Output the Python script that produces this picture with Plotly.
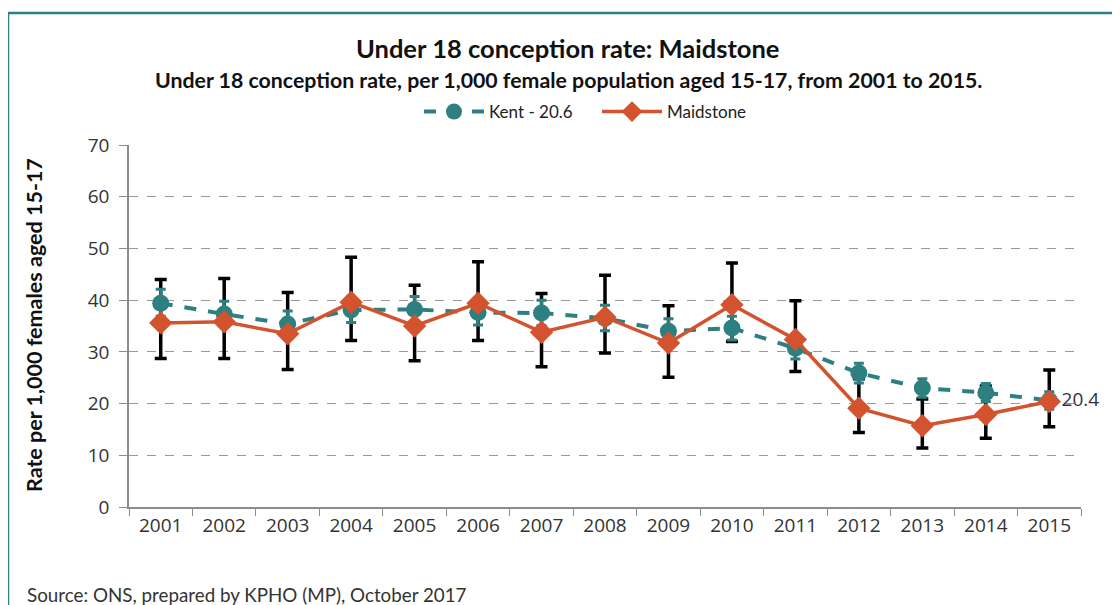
import plotly.graph_objects as go

years = ["2001", "2002", "2003", "2004", "2005", "2006", "2007", "2008",
         "2009", "2010", "2011", "2012", "2013", "2014", "2015"]
maidstone = [35.6, 35.8, 33.5, 39.6, 35.0, 39.4, 33.8, 36.7, 31.7, 39.1, 32.4, 19.1, 15.7, 17.9, 20.4]
maid_upper = [44.0, 44.2, 41.5, 48.3, 42.9, 47.4, 41.3, 44.8, 38.9, 47.2, 39.9, 24.8, 20.9, 23.4, 26.5]
maid_lower = [28.7, 28.7, 26.6, 32.2, 28.3, 32.2, 27.1, 29.8, 25.1, 32.0, 26.2, 14.4, 11.4, 13.3, 15.5]
kent = [39.4, 37.3, 35.4, 38.1, 38.2, 37.6, 37.5, 36.5, 34.0, 34.6, 30.7, 25.9, 23.0, 22.1, 20.6]
kent_upper = [42.1, 39.8, 37.9, 40.6, 40.7, 40.1, 40.0, 39.0, 36.4, 36.9, 32.9, 27.8, 24.8, 23.9, 22.3]
kent_lower = [36.9, 34.9, 33.0, 35.7, 35.8, 35.2, 35.1, 34.1, 31.7, 32.3, 28.6, 24.0, 21.2, 20.4, 18.9]
y_ticks = [0, 10, 20, 30, 40, 50, 60, 70]

TEAL = "#2E7F80"
RED = "#D4532F"

fig = go.Figure()

# Maidstone confidence intervals (drawn first, under the lines)
fig.add_trace(go.Scatter(
    x=years, y=maidstone, mode="markers", marker=dict(size=1, opacity=0),
    showlegend=False, hoverinfo="skip",
    error_y=dict(type="data", symmetric=False,
                 array=[u - v for u, v in zip(maid_upper, maidstone)],
                 arrayminus=[v - l for v, l in zip(maidstone, maid_lower)],
                 color="black", thickness=3.5, width=6)))

fig.add_trace(go.Scatter(
    x=years, y=kent, name="Kent - 20.6", mode="lines+markers",
    line=dict(color=TEAL, width=4, dash="dash"),
    marker=dict(symbol="circle", size=17, color=TEAL),
    error_y=dict(type="data", symmetric=False,
                 array=[u - v for u, v in zip(kent_upper, kent)],
                 arrayminus=[v - l for v, l in zip(kent, kent_lower)],
                 color=TEAL, thickness=3, width=5)))

labels = [""] * (len(years) - 1) + [f"{maidstone[-1]:.1f}"]
fig.add_trace(go.Scatter(
    x=years, y=maidstone, name="Maidstone", mode="lines+markers+text",
    line=dict(color=RED, width=3.5),
    marker=dict(symbol="diamond", size=18, color=RED),
    text=labels, textposition="middle right", cliponaxis=False,
    textfont=dict(family="Open Sans", size=19, color="#333333")))

# the page is shown with an 8px body margin, so screen = figure + 8
OFF = 8
W, H = 1120, 605
L, R, T, B = 129 - OFF, W - (1081 - OFF), 145 - OFF, H - (507 - OFF)
pw, ph = W - L - R, H - T - B

def px(x):
    return (x - OFF - L) / pw

def py(y):
    return (H - B - (y - OFF)) / ph

fig.update_layout(
    width=W, height=H,
    margin=dict(l=L, r=R, t=T, b=B, autoexpand=False),
    paper_bgcolor="white", plot_bgcolor="white",
    font=dict(family="Lato", color="#333333"),
    showlegend=True,
    legend=dict(orientation="h", x=px(597), y=py(112), xanchor="center", yanchor="middle",
                font=dict(family="Lato", size=17, color="#222222"),
                itemwidth=60, entrywidth=103, entrywidthmode="pixels",
                traceorder="normal"),
    xaxis=dict(type="category", showgrid=False, showline=True, linecolor="#8c8c8c", linewidth=1.5,
               ticks="outside", tickson="boundaries", ticklen=7, tickcolor="#8c8c8c",
               tickfont=dict(family="Open Sans", size=19, color="#333333"),
               range=[-0.5, len(years) - 0.5]),
    yaxis=dict(range=[0, 70], tickvals=y_ticks, showgrid=True, gridcolor="#9a9a9a",
               griddash="dash", gridwidth=1, zeroline=False, showline=True,
               linecolor="#8c8c8c", linewidth=1.5, ticks="outside", ticklen=8,
               tickcolor="#8c8c8c", ticklabelstandoff=6,
               tickfont=dict(family="Open Sans", size=19, color="#333333")),
    annotations=[
        dict(text="<b>Under 18 conception rate: Maidstone</b>", xref="paper", yref="paper",
             x=px(567), y=py(48), xanchor="center", yanchor="middle", showarrow=False,
             font=dict(family="Lato", size=25.5, color="#111111")),
        dict(text="<b>Under 18 conception rate, per 1,000 female population aged 15-17, from 2001 to 2015.</b>",
             xref="paper", yref="paper", x=px(568), y=py(80), xanchor="center", yanchor="middle",
             showarrow=False, font=dict(family="Lato", size=21.3, color="#111111")),
        dict(text="<b>Rate per 1,000 females aged 15-17</b>", xref="paper", yref="paper",
             x=px(34), y=py(325), xanchor="center", yanchor="middle", textangle=-90,
             showarrow=False, font=dict(family="Lato", size=21.5, color="#111111")),
        dict(text="Source: ONS, prepared by KPHO (MP), October 2017", xref="paper", yref="paper",
             x=px(25), y=py(594), xanchor="left", yanchor="middle", showarrow=False,
             font=dict(family="Lato", size=18.8, color="#333333")),
    ],
    shapes=[
        dict(type="rect", xref="paper", yref="paper", x0=px(8), x1=px(1140), y0=py(13), y1=py(640),
             line=dict(color=TEAL, width=2.5), layer="below"),
    ],
)

fig.write_html("out.html")
